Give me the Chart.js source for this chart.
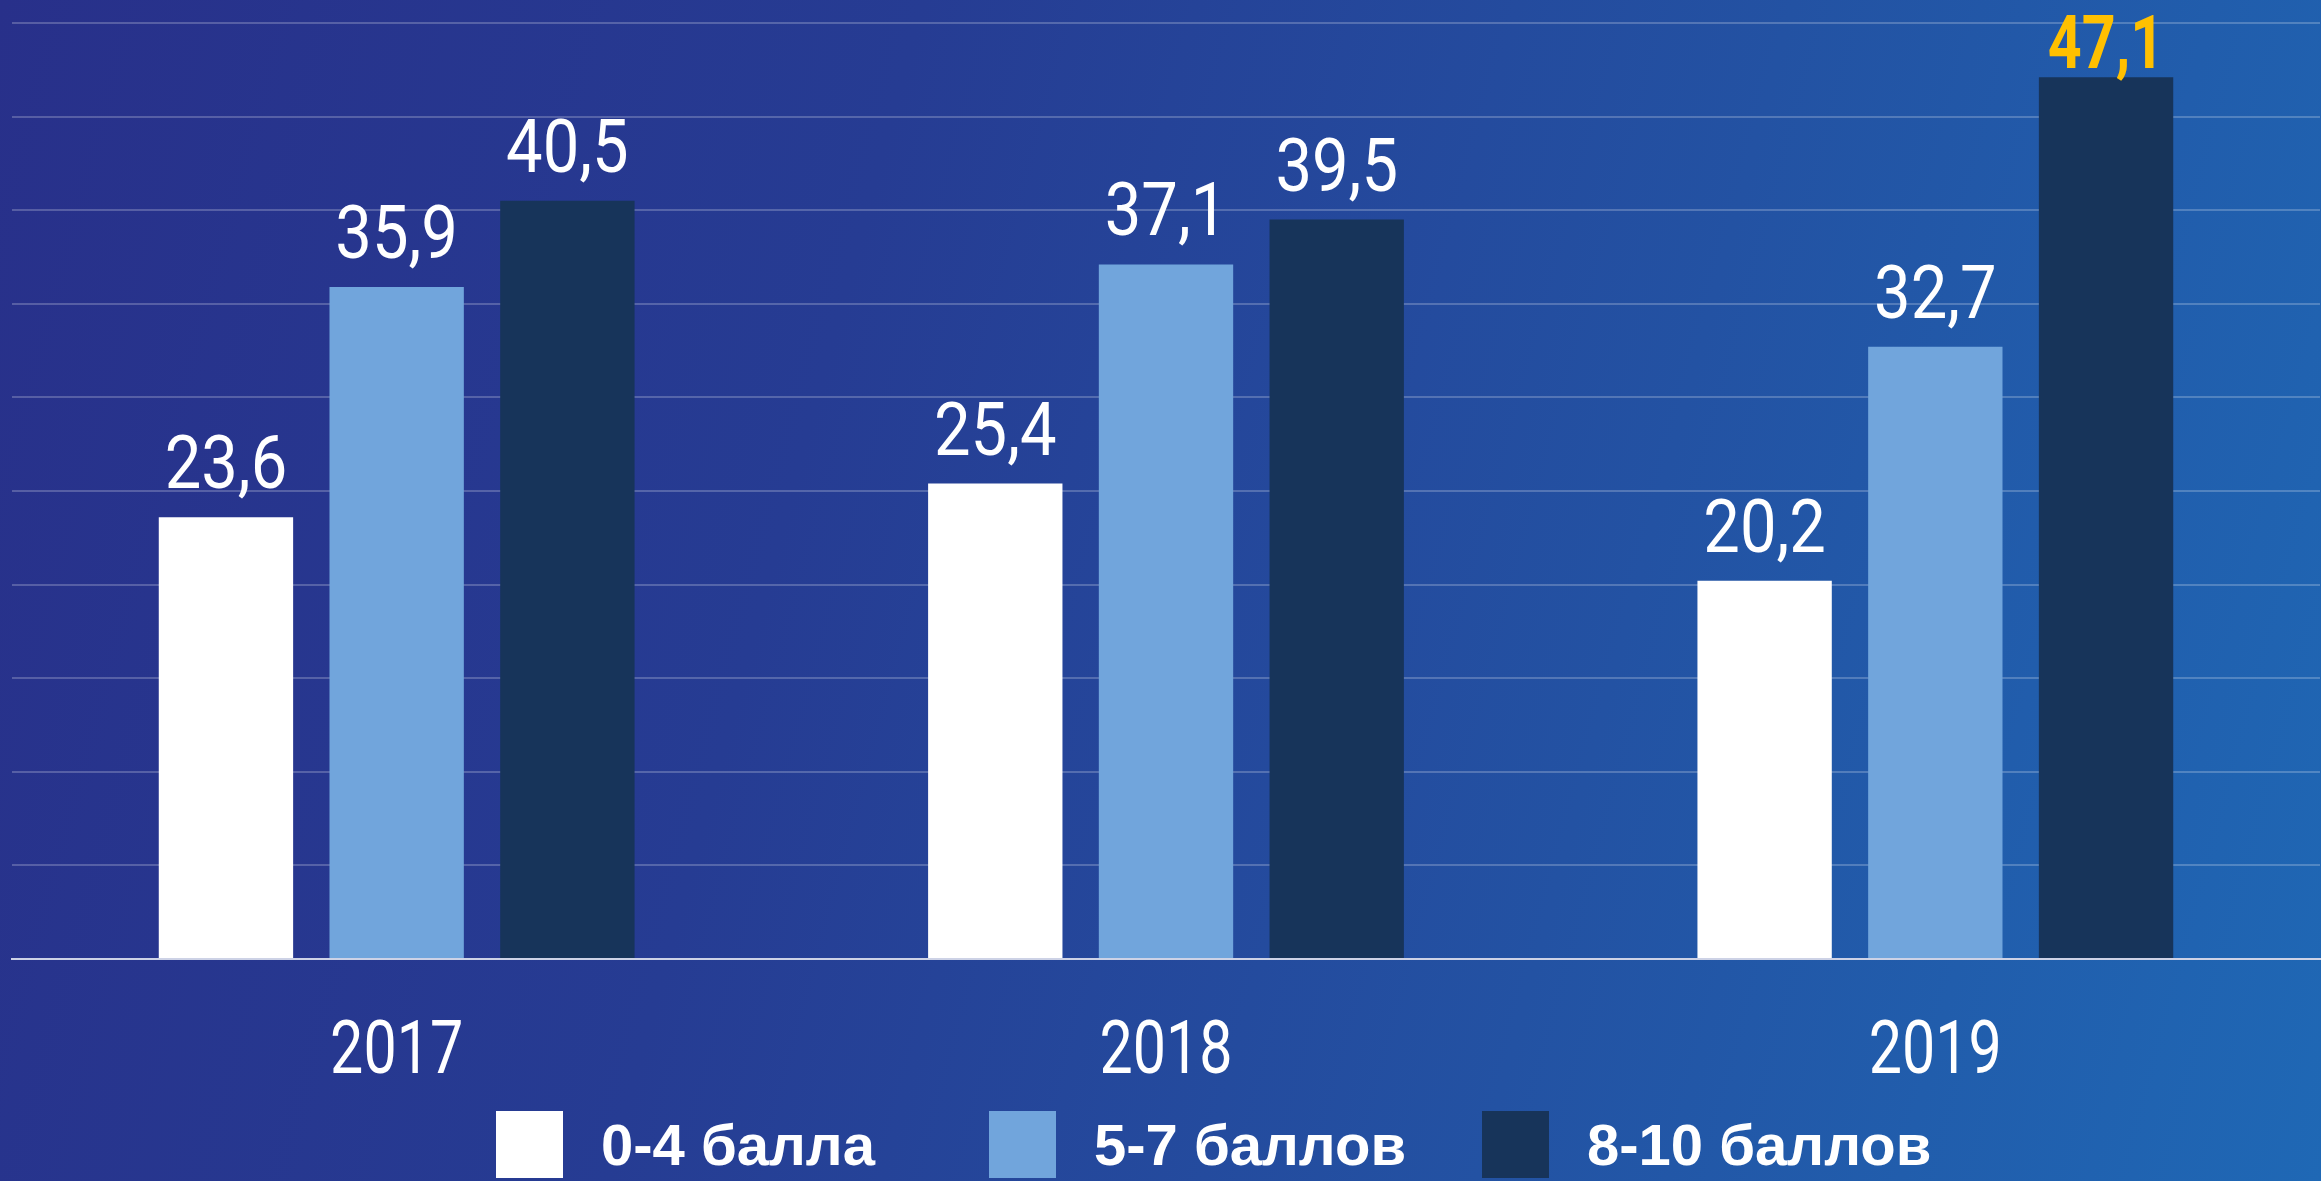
<!DOCTYPE html>
<html lang="ru">
<head>
<meta charset="utf-8">
<title>Распределение оценок по годам</title>
<script src="https://cdn.jsdelivr.net/npm/chart.js@4.4.1/dist/chart.umd.min.js"></script>
<style>
  html, body { margin: 0; padding: 0; }
  body {
    width: 2321px;
    height: 1181px;
    overflow: hidden;
    position: relative;
    background: linear-gradient(105deg, #28308a 0%, #263c93 35%, #2352a3 68%, #1f68b5 100%);
    font-family: "Liberation Sans", Arial, sans-serif;
  }
  #chart { position: absolute; left: 0; top: 0; }
  #legend {
    position: absolute;
    left: 496px;
    top: 1111px;
    display: flex;
    align-items: center;
    margin: 0;
    padding: 0;
    list-style: none;
  }
  #legend li { display: flex; align-items: center; gap: 38px; width: 493px; }
  #legend li:last-child { width: auto; }
  #legend .box { width: 67px; height: 67px; flex: none; }
  #legend .txt { color: #fff; font-weight: bold; font-size: 58px; line-height: 67px; white-space: nowrap; }
</style>
</head>
<body>
<canvas id="chart" width="2321" height="1181"></canvas>
<ul id="legend"></ul>
<script>
// data
const years = ["2017", "2018", "2019"];
const seriesNames = ["0-4 балла", "5-7 баллов", "8-10 баллов"];
const low = [23.6, 25.4, 20.2];
const mid = [35.9, 37.1, 32.7];
const high = [40.5, 39.5, 47.1];
const yMax = 50;
const yStep = 5;

const colors = ["#ffffff", "#71a5dc", "#17345a"];

function fmt(v) {
  return v.toFixed(1).replace(".", ",");
}

// the picture uses a condensed face, so squeeze the text a bit
function squeezedText(ctx, text, x, y, sx) {
  ctx.save();
  ctx.translate(x, y);
  ctx.scale(sx, 1);
  ctx.fillText(text, 0, 0);
  ctx.restore();
}

// values over the bars (biggest one bold yellow) + year labels under the axis
const barTexts = {
  id: "barTexts",
  afterDatasetsDraw(chart, args, opts) {
    const ctx = chart.ctx;
    const maxVal = Math.max(...chart.data.datasets.flatMap((d) => d.data));
    ctx.save();
    ctx.textAlign = "center";
    ctx.textBaseline = "alphabetic";
    chart.data.datasets.forEach((ds, i) => {
      chart.getDatasetMeta(i).data.forEach((bar, j) => {
        const v = ds.data[j];
        const hi = v === maxVal;
        ctx.font = hi ? opts.fontHi : opts.font;
        ctx.fillStyle = hi ? opts.colorHi : opts.color;
        squeezedText(ctx, fmt(v), bar.x, bar.y - (hi ? opts.offsetHi : opts.offset), hi ? opts.squeezeHi : opts.squeeze);
      });
    });
    // year labels from the category scale
    const xScale = chart.scales.x;
    ctx.font = opts.font;
    ctx.fillStyle = opts.color;
    xScale.ticks.forEach((t, i) => {
      squeezedText(ctx, xScale.getLabelForValue(t.value), xScale.getPixelForTick(i), chart.chartArea.bottom + opts.yearOffset, opts.squeezeYear);
    });
    ctx.restore();
  },
};

// legend as html under the canvas
const htmlLegend = {
  id: "htmlLegend",
  afterUpdate(chart) {
    const ul = document.getElementById("legend");
    ul.innerHTML = "";
    const items = chart.options.plugins.legend.labels.generateLabels(chart);
    items.forEach((item) => {
      const li = document.createElement("li");
      const box = document.createElement("span");
      box.className = "box";
      box.style.background = item.fillStyle;
      const txt = document.createElement("span");
      txt.className = "txt";
      txt.textContent = item.text;
      li.appendChild(box);
      li.appendChild(txt);
      ul.appendChild(li);
    });
  },
};

const chartSetup = {
  type: "bar",
  data: {
    labels: years,
    datasets: [
      { label: seriesNames[0], data: low, backgroundColor: colors[0] },
      { label: seriesNames[1], data: mid, backgroundColor: colors[1] },
      { label: seriesNames[2], data: high, backgroundColor: colors[2] },
    ],
  },
  options: {
    responsive: false,
    animation: false,
    layout: { padding: { left: 12, right: 1, top: 23, bottom: 222 } },
    datasets: {
      bar: { categoryPercentage: 0.6657, barPercentage: 0.787 },
    },
    scales: {
      x: {
        grid: { display: false, drawTicks: false },
        border: { display: true, color: "#cdd2e6", width: 2 },
        ticks: { display: false },
      },
      y: {
        min: 0,
        max: yMax,
        ticks: { display: false, stepSize: yStep },
        border: { display: false },
        grid: {
          drawTicks: false,
          lineWidth: 2,
          color: (c) => (c.tick && c.tick.value === 0 ? "rgba(0,0,0,0)" : "rgba(255,255,255,0.22)"),
        },
      },
    },
    plugins: {
      legend: { display: false },
      tooltip: { enabled: false },
      barTexts: {
        font: "400 74px Roboto, 'Liberation Sans', sans-serif",
        fontHi: "bold 74px Roboto, 'Liberation Sans', sans-serif",
        color: "#ffffff",
        colorHi: "#ffc000",
        offset: 29,
        offsetHi: 9,
        squeeze: 0.88,
        squeezeHi: 0.8,
        squeezeYear: 0.8,
        yearOffset: 114,
      },
    },
  },
  plugins: [barTexts, htmlLegend],
};

const myChart = new Chart(document.getElementById("chart").getContext("2d"), chartSetup);
</script>
</body>
</html>
